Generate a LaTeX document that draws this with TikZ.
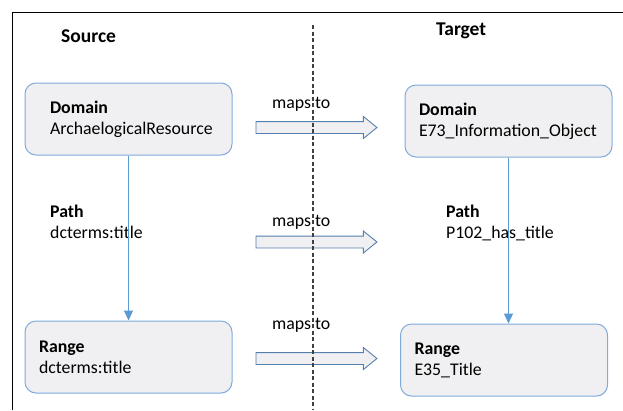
\documentclass[tikz,border=0pt]{standalone}
\usepackage{fontspec}
\setmainfont{Carlito}
\usetikzlibrary{positioning, arrows.meta, shapes.arrows}

\definecolor{boxfill}{HTML}{F0F0F2}
\definecolor{boxline}{HTML}{7FAADB}
\definecolor{linkblue}{HTML}{5B9BD5}
\definecolor{arrline}{HTML}{557FAD}

\begin{document}
\begin{tikzpicture}[
    x=1pt, y=-1pt,
    font=\fontsize{17.8}{21}\selectfont,
    klasse/.style={draw=boxline, fill=boxfill, line width=1pt, rounded corners=11pt,
      minimum height=72pt, align=left, inner ysep=0pt},
    pfad/.style={align=left, anchor=north west, inner sep=0pt},
    mapsto/.style={single arrow, draw=arrline, fill=boxfill, line width=0.9pt,
      minimum height=121pt, inner xsep=0pt, inner ysep=5.5pt, single arrow head extend=5pt,
      single arrow tip angle=78, anchor=tail},
    link/.style={draw=linkblue, line width=1pt, -{Triangle[length=10pt, width=9pt]}},
    titel/.style={font=\fontsize{19.5}{21}\selectfont\bfseries, anchor=base west, inner sep=0pt},
  ]

  \useasboundingbox (0, 0) rectangle (623, 410);

  % frame
  \draw[line width=1.3pt] (12.5, 410) -- (12.5, 12.5) -- (623, 12.5);

  \node[titel] (src) at (61, 42) {Source};
  \node[titel] (tgt) at (436, 35) {Target};

  % source side
  \node[klasse, text width=157pt, inner xsep=25pt] (sdom) at (128.5, 119)
    {\textbf{Domain}\\ArchaelogicalResource};
  \node[klasse, text width=179pt, inner xsep=14pt] (srng) at (128.5, 357)
    {\textbf{Range}\\dcterms:title};
  \node[pfad] (spath) at (50, 205) {\textbf{Path}\\dcterms:title};

  % target side
  \node[klasse, text width=179pt, inner xsep=14pt] (tdom) at (508.5, 121)
    {\textbf{Domain}\\E73\_Information\_Object};
  \node[klasse, text width=179pt, inner xsep=14pt] (trng) at (504, 360)
    {\textbf{Range}\\E35\_Title};
  \node[pfad] (tpath) at (446, 205) {\textbf{Path}\\P102\_has\_title};

  \draw[link] (sdom.south) -- (sdom.south |- srng.north);
  \draw[link] (tdom.south) -- (tdom.south |- trng.north);

  % maps to arrows
  \node[mapsto] (m1) at (255.5, 127.5) {};
  \node[mapsto] (m2) at (255.5, 242) {};
  \node[mapsto] (m3) at (255.5, 358.5) {};
  \node[anchor=west, inner sep=0pt] (l1) at (272, 104) {maps to};
  \node[anchor=west, inner sep=0pt] (l2) at (272, 222) {maps to};
  \node[anchor=west, inner sep=0pt] (l3) at (272, 325) {maps to};

  % divider
  \draw[black!75, line width=1.2pt, dash pattern=on 4pt off 2.5pt] (313, 25) -- (313, 410);
\end{tikzpicture}
\end{document}
